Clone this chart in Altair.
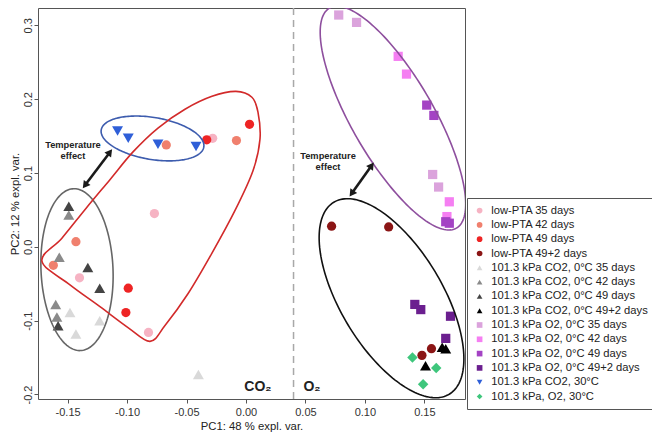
import altair as alt
import pandas as pd
import numpy as np

FONT = "Liberation Sans"

# ---------------- data ----------------
groups = [
    "low-PTA 35 days", "low-PTA 42 days", "low-PTA 49 days", "low-PTA 49+2 days",
    "101.3 kPa CO2, 0°C 35 days", "101.3 kPa CO2, 0°C 42 days",
    "101.3 kPa CO2, 0°C 49 days", "101.3 kPa CO2, 0°C 49+2 days",
    "101.3 kPa O2, 0°C 35 days", "101.3 kPa O2, 0°C 42 days",
    "101.3 kPa O2, 0°C 49 days", "101.3 kPa O2, 0°C 49+2 days",
    "101.3 kPa CO2, 30°C", "101.3 kPa, O2, 30°C",
]
colors = ["#f6b3c3", "#f0806e", "#ee2424", "#8b1515",
          "#d9d9d9", "#8a8a8a", "#444444", "#000000",
          "#dba3dc", "#f57ff2", "#a443c4", "#6b1f8f",
          "#2f5fd8", "#3ec67c"]
shapes = ["circle"] * 4 + ["triangle-up"] * 4 + ["square"] * 4 + ["triangle-down", "diamond"]

pc1 = [
    [-0.077, -0.140, -0.082, -0.028],
    [-0.067, -0.008, -0.143, -0.162],
    [-0.033, 0.003, -0.099, -0.101],
    [0.072, 0.120, 0.156, 0.148],
    [-0.148, -0.123, -0.143, -0.040],
    [-0.149, -0.157, -0.160, -0.159],
    [-0.149, -0.133, -0.123, -0.158],
    [0.165, 0.168, 0.151],
    [0.078, 0.093, 0.157, 0.162],
    [0.128, 0.135, 0.171, 0.169],
    [0.152, 0.158, 0.171, 0.168],
    [0.142, 0.147, 0.172, 0.168],
    [-0.108, -0.099, -0.074, -0.042],
    [0.140, 0.160, 0.149],
]
pc2 = [
    [0.045, -0.042, -0.116, 0.147],
    [0.138, 0.144, 0.007, -0.025],
    [0.145, 0.166, -0.056, -0.089],
    [0.028, 0.027, -0.138, -0.147],
    [-0.089, -0.100, -0.118, -0.173],
    [0.043, -0.014, -0.078, -0.095],
    [0.055, -0.028, -0.056, -0.107],
    [-0.136, -0.138, -0.161],
    [0.314, 0.304, 0.098, 0.081],
    [0.258, 0.234, 0.061, 0.041],
    [0.192, 0.178, 0.032, 0.034],
    [-0.078, -0.085, -0.094, -0.124],
    [0.157, 0.147, 0.139, 0.136],
    [-0.150, -0.164, -0.186],
]
marker_size = {"circle": 85, "triangle-up": 120, "square": 85,
               "triangle-down": 120, "diamond": 110}

rows = []
for g, s, xs, ys in zip(groups, shapes, pc1, pc2):
    for xv, yv in zip(xs, ys):
        rows.append({"group": g, "x": xv, "y": yv, "sz": marker_size[s]})
pts = pd.DataFrame(rows)

# ellipse annotations: centre (data units), semi-axes (px), rotation (deg, screen)
ell_names = ["co2_0C", "co2_30C", "o2_0C", "o2_mix"]
ell_cx = [-0.1421, -0.0786, 0.1236, 0.1224]
ell_cy = [-0.0309, 0.1468, 0.1743, -0.0696]
ell_a = [81, 52, 127, 112]
ell_b = [36, 21, 41, 51]
ell_ang = [87.5, 9.5, 60, 59]
ell_col = ["#666666", "#3d5cae", "#8e4f9e", "#111111"]

# red outline around low-PTA points (closed smooth curve)
red_x = [-0.1716, -0.1548, -0.1346, -0.1144, -0.0950, -0.0740, -0.0513, -0.0286,
         -0.0084, 0.0050, 0.0101, 0.0118, 0.0059, -0.0092, -0.0286, -0.0488,
         -0.0681, -0.0807, -0.0992, -0.1228, -0.1480]
red_y = [-0.0192, 0.0117, 0.0520, 0.0910, 0.1286, 0.1609, 0.1864, 0.2039,
         0.2106, 0.2026, 0.1824, 0.1461, 0.1031, 0.0493, -0.0085, -0.0636,
         -0.1066, -0.1281, -0.1093, -0.0810, -0.0515]

# arrows (start / end, data units)
arr_x1 = [-0.1144, 0.1057]
arr_y1 = [0.1282, 0.1102]
arr_x2 = [-0.1354, 0.0889]
arr_y2 = [0.0833, 0.0722]

# ---------------- layout ----------------
W, H = 427, 391
XMIN, XMAX = -0.1749, 0.1842
YMIN, YMAX = -0.2061, 0.3235
KX = W / (XMAX - XMIN)
KY = H / (YMAX - YMIN)

x_ticks = [-0.15, -0.10, -0.05, 0.0, 0.05, 0.10, 0.15]
y_ticks = [-0.2, -0.1, 0.0, 0.1, 0.2, 0.3]

X = alt.X("x:Q", scale=alt.Scale(domain=[XMIN, XMAX], nice=False, zero=False),
          axis=alt.Axis(values=x_ticks, title="PC1: 48 % expl. var.",
                        labelExpr="datum.value < -0.0001 ? '-' + format(-datum.value, '.2f') : format(abs(datum.value), '.2f')",
                        grid=False, domain=False, tickSize=4, labelPadding=3,
                        titlePadding=3))
Y = alt.Y("y:Q", scale=alt.Scale(domain=[YMIN, YMAX], nice=False, zero=False),
          axis=alt.Axis(values=y_ticks, title="PC2: 12 % expl. var.",
                        labelExpr="datum.value < -0.0001 ? '-' + format(-datum.value, '.1f') : format(abs(datum.value), '.1f')",
                        grid=False, domain=False, tickSize=4, labelPadding=1,
                        labelAngle=-90, labelAlign="center", labelBaseline="bottom",
                        titleAngle=-90, titleAlign="center", titleBaseline="bottom",
                        titleX=-18, titleY=H / 2))

points = alt.Chart(pts).mark_point(filled=True, opacity=1).encode(
    x=X, y=Y,
    color=alt.Color("group:N", title=None,
                    scale=alt.Scale(domain=groups, range=colors),
                    legend=alt.Legend(orient="none", legendX=429, legendY=190,
                                      padding=7, strokeColor="#555555",
                                      fillColor="white", labelFont=FONT,
                                      labelFontSize=11.2, labelColor="#222222",
                                      symbolSize=32, rowPadding=2.3,
                                      labelOffset=6, labelLimit=300)),
    shape=alt.Shape("group:N", title=None,
                    scale=alt.Scale(domain=groups, range=shapes)),
    size=alt.Size("sz:Q", scale=None, legend=None),
)

layers = [points]
t = np.linspace(0, 2 * np.pi, 181)
for name, cx, cy, a, b, ang, col in zip(ell_names, ell_cx, ell_cy, ell_a, ell_b, ell_ang, ell_col):
    th = np.radians(ang)
    dxs = a * np.cos(t) * np.cos(th) - b * np.sin(t) * np.sin(th)
    dys = a * np.cos(t) * np.sin(th) + b * np.sin(t) * np.cos(th)
    edf = pd.DataFrame({"x": cx + dxs / KX, "y": cy - dys / KY, "i": np.arange(len(t))})
    layers.append(alt.Chart(edf).mark_line(color=col, strokeWidth=1.6, clip=True)
                  .encode(x=X, y=Y, order="i:Q"))

rdf = pd.DataFrame({"x": red_x, "y": red_y, "i": range(len(red_x))})
layers.append(alt.Chart(rdf).mark_line(color="#d22a2a", strokeWidth=1.6,
                                       interpolate="cardinal-closed", clip=True)
              .encode(x=X, y=Y, order="i:Q"))

# dashed separator
layers.append(alt.Chart(pd.DataFrame({"x": [0.04]})).mark_rule(
    color="#a8a8a8", strokeDash=[7, 5], strokeWidth=1.5).encode(x=X))

# arrows
adf = pd.DataFrame({"x": arr_x1, "y": arr_y1, "x2": arr_x2, "y2": arr_y2})
layers.append(alt.Chart(adf).mark_rule(color="#1a1a1a", strokeWidth=2.6).encode(
    x=X, y=Y, x2="x2:Q", y2="y2:Q"))
heads = []
for x1, y1, x2, y2 in zip(arr_x1, arr_y1, arr_x2, arr_y2):
    a1 = np.degrees(np.arctan2((x1 - x2) * KX, (y1 - y2) * KY)) % 360
    heads.append({"x": x1, "y": y1, "ang": a1})
    heads.append({"x": x2, "y": y2, "ang": (a1 + 180) % 360})
hdf = pd.DataFrame(heads)
layers.append(alt.Chart(hdf).mark_point(shape="triangle-up", filled=True, size=70,
                                        color="#1a1a1a", opacity=1).encode(
    x=X, y=Y, angle=alt.Angle("ang:Q", scale=None)))

# text annotations
tdf = pd.DataFrame({"x": [-0.1455, -0.1455, 0.069, 0.069],
                    "y": [0.138, 0.1233, 0.1233, 0.1085],
                    "t": ["Temperature", "effect", "Temperature", "effect"]})
layers.append(alt.Chart(tdf).mark_text(font=FONT, fontSize=9.3, fontWeight="bold",
                                       color="#222222").encode(x=X, y=Y, text="t:N"))
gdf = pd.DataFrame({"x": [0.0101, 0.0555], "y": [-0.1895, -0.1895], "t": ["CO₂", "O₂"]})
layers.append(alt.Chart(gdf).mark_text(font=FONT, fontSize=14, fontWeight="bold",
                                       color="#222222").encode(x=X, y=Y, text="t:N"))

chart = alt.layer(*layers).properties(
    width=W, height=H,
    autosize=alt.AutoSizeParams(type="none"),
    padding={"left": 30, "top": 0, "right": 187, "bottom": 33},
).configure_view(stroke="#555555", strokeWidth=1).configure_axis(
    labelFont=FONT, titleFont=FONT, labelFontSize=11, titleFontSize=11.3,
    labelColor="#333333", titleColor="#222222", tickColor="#555555",
    titleFontWeight="normal",
)

chart.save("out.html", embed_options={"renderer": "svg", "actions": False})
